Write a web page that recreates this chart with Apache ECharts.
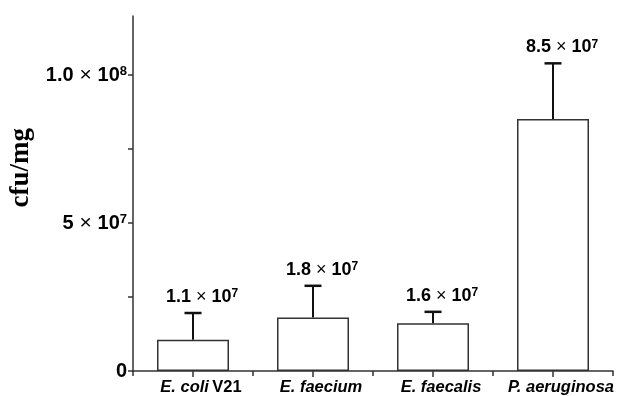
<!DOCTYPE html>
<html><head><meta charset="utf-8">
<script src="https://cdn.jsdelivr.net/npm/echarts@6/dist/echarts.min.js"></script>
<style>html,body{margin:0;padding:0;background:#fff}#c{width:619px;height:396px}</style>
</head><body><div id="c"></div>
<script>
const categories = ['E. coli V21', 'E. faecium', 'E. faecalis', 'P. aeruginosa'];
const means = [1.06e7, 1.81e7, 1.61e7, 8.52e7];
const errTops = [1.96e7, 2.88e7, 2.0e7, 1.04e8];
const labelMantissa = ['1.1', '1.8', '1.6', '8.5'];
const labelExp = ['7', '7', '7', '7'];
const yTickValues = [0, 2.5e7, 5e7, 7.5e7, 1e8];
const yLabelValues = [0, 5e7, 1e8];
const yLabelTexts = {0: '{n|0}', 50000000: '{n|5}{x| × }{n|10}{s|7}', 100000000: '{n|1.0}{x| × }{n|10}{s|8}'};

const chart = echarts.init(document.getElementById('c'));
const richNum = {
  n: {fontFamily: 'Liberation Sans', fontWeight: 'bold', fontSize: 18, color: '#000'},
  x: {fontFamily: 'Liberation Sans', fontWeight: 'normal', fontSize: 18, color: '#000'},
  s: {fontFamily: 'Liberation Sans', fontWeight: 'bold', fontSize: 12, color: '#000', verticalAlign: 'top'}
};
const richAxis = {
  n: {fontFamily: 'Liberation Sans', fontWeight: 'bold', fontSize: 20, color: '#000'},
  x: {fontFamily: 'Liberation Sans', fontWeight: 'normal', fontSize: 21, color: '#000'},
  s: {fontFamily: 'Liberation Sans', fontWeight: 'bold', fontSize: 13, color: '#000', verticalAlign: 'top'}
};
chart.setOption({
  animation: false,
  grid: {left: 133, right: 6, top: 16, bottom: 24},
  xAxis: [{
    type: 'category', data: categories, boundaryGap: true,
    axisLine: {lineStyle: {color: '#333', width: 1.5}},
    axisTick: {show: true, alignWithLabel: false, length: 5, lineStyle: {color: '#333', width: 1.5}},
    axisLabel: {show: false}
  }, {
    type: 'category', data: categories, boundaryGap: true, position: 'bottom',
    axisLine: {show: false},
    axisTick: {show: true, alignWithLabel: true, length: 6, lineStyle: {color: '#333', width: 1.5}},
    axisLabel: {
      margin: 8, interval: 0, padding: [0, 0, 0, 16],
      formatter: function (v) {
        if (v.indexOf('V21') >= 0) return '{i|' + v.replace(' V21', '') + '} {b|V21}';
        return '{i|' + v + '}';
      },
      rich: {
        i: {fontFamily: 'Liberation Sans', fontWeight: 'bold', fontStyle: 'italic', fontSize: 16.5, color: '#000'},
        b: {fontFamily: 'Liberation Sans', fontWeight: 'bold', fontSize: 16.5, color: '#000'}
      }
    }
  }],
  yAxis: {
    type: 'value', min: 0, max: 1.2e8, interval: 2.5e7,
    splitLine: {show: false},
    axisLine: {show: true, lineStyle: {color: '#333', width: 1.5}},
    axisTick: {show: true, length: 5, customValues: yTickValues, lineStyle: {color: '#333', width: 1.5}},
    axisLabel: {
      customValues: yLabelValues, margin: 6,
      formatter: function (v) { return yLabelTexts[v] || ''; },
      rich: richAxis
    }
  },
  graphic: [{
    type: 'text', left: 8, top: 128, rotation: Math.PI / 2, originX: 0, originY: 0,
    style: {text: 'cfu/mg', font: 'bold 27px "Liberation Serif"', fill: '#000'}
  }],
  series: [{
    type: 'bar', data: means, barWidth: 72, xAxisIndex: 0,
    itemStyle: {color: '#fff', borderColor: '#333', borderWidth: 1.5}
  }, {
    type: 'custom', xAxisIndex: 0,
    data: means.map((m, i) => [i, m, errTops[i]]),
    renderItem: function (params, api) {
      const i = api.value(0);
      const lo = api.coord([i, api.value(1)]);
      const hi = api.coord([i, api.value(2)]);
      const cap = 8.5;
      return {
        type: 'group',
        children: [
          {type: 'line', shape: {x1: lo[0], y1: lo[1], x2: hi[0], y2: hi[1]}, style: {stroke: '#111', lineWidth: 2}},
          {type: 'line', shape: {x1: hi[0] - cap, y1: hi[1], x2: hi[0] + cap, y2: hi[1]}, style: {stroke: '#111', lineWidth: 2.5}},
          {type: 'text', x: hi[0] + 9, y: hi[1] - 7,
            style: {
              text: '{n|' + labelMantissa[params.dataIndex] + '}{x| × }{n|10}{s|' + labelExp[params.dataIndex] + '}',
              align: 'center', verticalAlign: 'bottom', rich: richNum
            }}
        ]
      };
    }
  }]
});
</script></body></html>
